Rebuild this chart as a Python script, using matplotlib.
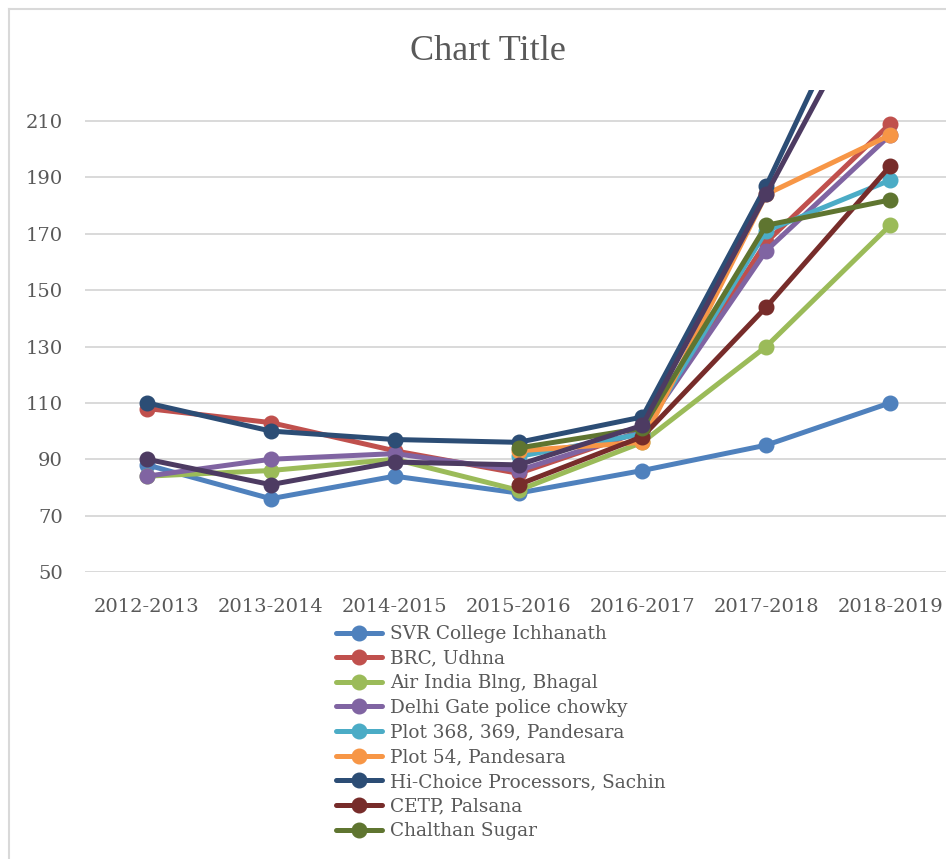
import numpy as np
import matplotlib.pyplot as plt
from matplotlib.lines import Line2D

nan = np.nan

years = ["2012-2013", "2013-2014", "2014-2015", "2015-2016",
         "2016-2017", "2017-2018", "2018-2019"]

# values (nan = no reading that year)
svr_college = [88, 76, 84, 78, 86, 95, 110]
brc_udhna = [108, 103, 93, 85, 100, 167, 209]
air_india = [84, 86, 90, 79, 96, 130, 173]
delhi_gate = [84, 90, 92, 86, 100, 164, 205]
plot_368 = [nan, nan, nan, 91, 99, 171, 189]
plot_54 = [nan, nan, nan, 93, 96, 184, 205]
hi_choice = [110, 100, 97, 96, 105, 187, 280]
cetp = [nan, nan, nan, 81, 98, 144, 194]
chalthan = [nan, nan, nan, 94, 101, 173, 182]
tenth_site = [90, 81, 89, 88, 102, 184, 266]

series = [
    ("SVR College Ichhanath", svr_college, "#4F81BD"),
    ("BRC, Udhna", brc_udhna, "#C0504D"),
    ("Air India Blng, Bhagal", air_india, "#9BBB59"),
    ("Delhi Gate police chowky", delhi_gate, "#8064A2"),
    ("Plot 368, 369, Pandesara", plot_368, "#4BACC6"),
    ("Plot 54, Pandesara", plot_54, "#F79646"),
    ("Hi-Choice Processors, Sachin", hi_choice, "#2C4D75"),
    ("CETP, Palsana", cetp, "#772C2A"),
    ("Chalthan Sugar", chalthan, "#5F7530"),
    ("_nolegend_", tenth_site, "#4D3B62"),
]

W, H = 946, 859
fig = plt.figure(figsize=(W / 100, H / 100), dpi=100)

# plot area in pixels: left 85, right ~952 (cut off), top 90, bottom 572
ax = fig.add_axes([85 / W, (H - 572) / H, (952 - 85) / W, (572 - 90) / H])

x = np.arange(len(years))
for name, vals, col in series:
    ax.plot(x, vals, color=col, lw=3.6, marker="o", ms=10.5,
            solid_capstyle="round", label=name)

txt = "#595959"
ax.set_xlim(-0.5, len(years) - 0.5)
ax.set_ylim(50, 221)
ax.set_yticks(np.arange(50, 211, 20))
ax.set_xticks(x)
ax.set_xticklabels(years)
ax.grid(axis="y", color="#D9D9D9", lw=1.4)
ax.set_axisbelow(True)
for s in ax.spines.values():
    s.set_visible(False)
ax.tick_params(length=0, colors=txt, labelsize=14, labelfontfamily="DejaVu Serif")
ax.tick_params(axis="y", pad=16)
ax.tick_params(axis="x", pad=19)

fig.text(488 / W, 1 - 52 / H, "Chart Title", ha="center", va="center",
         fontsize=26, color=txt, family="Liberation Serif")

leg = fig.legend(loc="upper left", bbox_to_anchor=(336 / W, 1 - 625 / H),
                 frameon=False, handlelength=2.5,
                 handletextpad=0.45, labelspacing=0.36, borderpad=0,
                 borderaxespad=0, prop={"family": "DejaVu Serif", "size": 13.3})
for t in leg.get_texts():
    t.set_color(txt)

# chart border, cut on right and bottom
fig.add_artist(Line2D([9 / W, 9 / W], [0, 1 - 9 / H], color="#D9D9D9", lw=1.5))
fig.add_artist(Line2D([9 / W, 1], [1 - 9 / H, 1 - 9 / H], color="#D9D9D9", lw=1.5))

fig.savefig("out.png", dpi=100)
